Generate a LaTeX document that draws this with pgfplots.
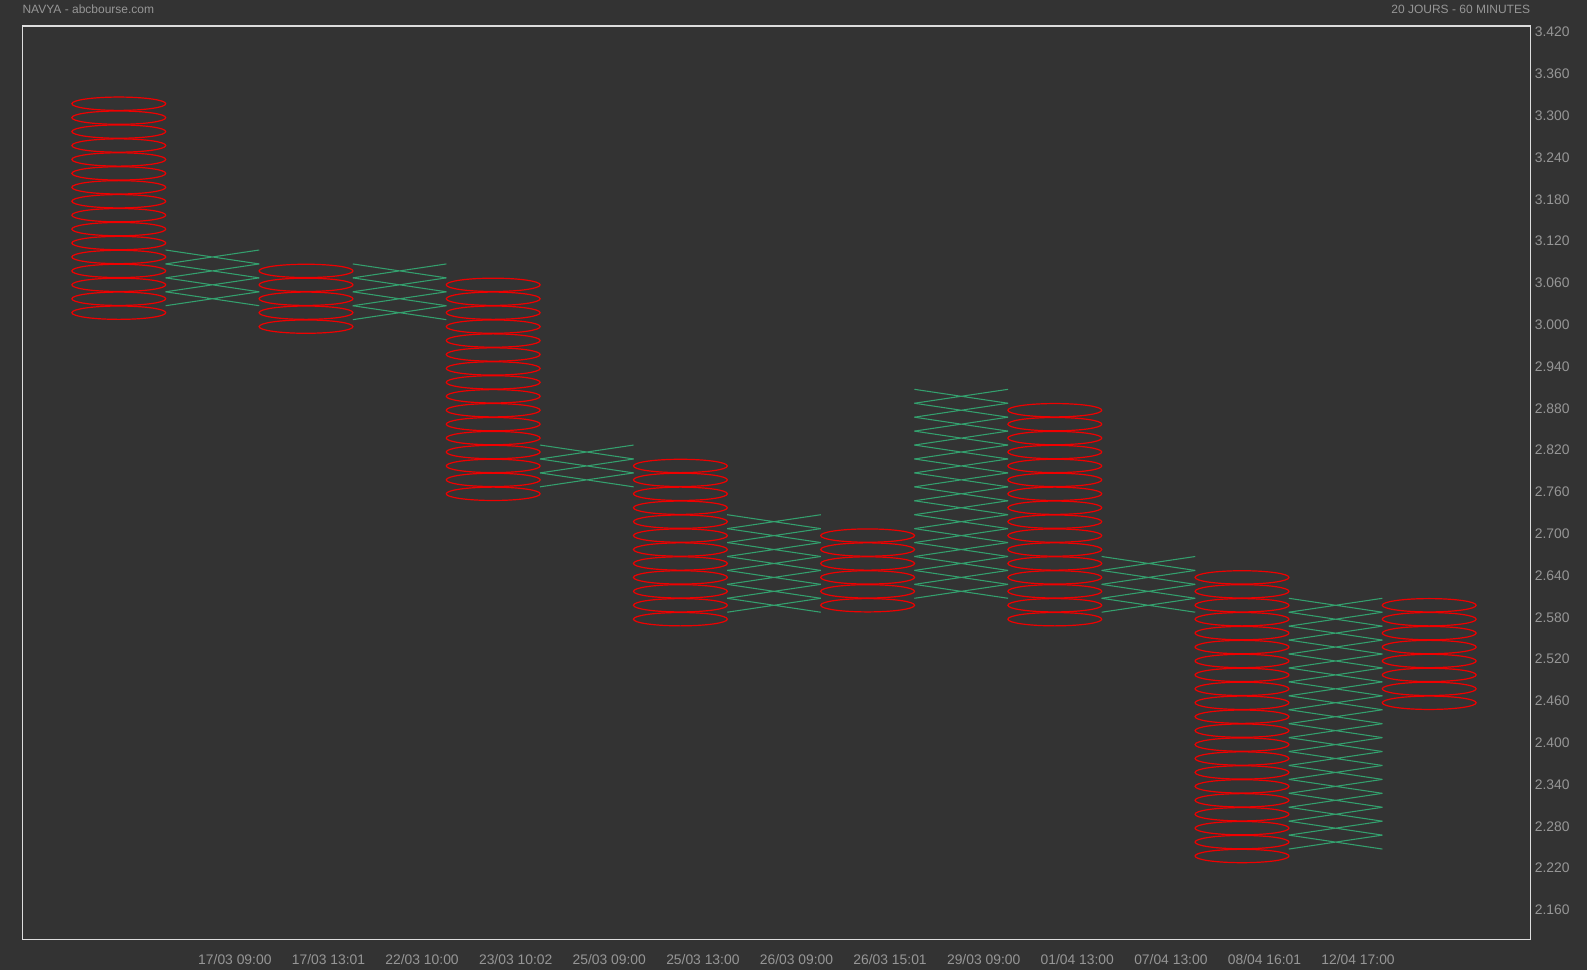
\documentclass[border=0pt]{standalone}
\usepackage{fontspec}
\setmainfont{Liberation Sans}
\usepackage{pgfplots}
\pgfplotsset{compat=1.18}
\definecolor{bgcol}{RGB}{51,51,51}
\definecolor{framecol}{RGB}{222,222,222}
\definecolor{txtcol}{RGB}{150,150,150}
\definecolor{ocol}{RGB}{240,0,0}
\definecolor{xcol}{RGB}{52,160,110}
\pgfdeclareplotmark{pfO}{%
  \pgfpathellipse{\pgfpointorigin}{\pgfqpoint{35.2pt}{0pt}}{\pgfqpoint{0pt}{5.0pt}}%
  \pgfusepathqstroke}
\pgfdeclareplotmark{pfX}{%
  \pgfpathmoveto{\pgfqpoint{-35.1pt}{-5.22pt}}\pgfpathlineto{\pgfqpoint{35.1pt}{5.22pt}}%
  \pgfpathmoveto{\pgfqpoint{-35.1pt}{5.22pt}}\pgfpathlineto{\pgfqpoint{35.1pt}{-5.22pt}}%
  \pgfusepathqstroke}
\begin{document}
\begin{tikzpicture}
\path[use as bounding box, fill=bgcol] (0,0) rectangle (1190.25pt,727.5pt);
\begin{axis}[
  at={(16.73pt,23pt)}, anchor=south west,
  scale only axis, width=1131pt, height=685pt,
  xmin=-0.031, xmax=16.08, ymin=2.1204, ymax=3.4316,
  clip=false,
  axis line style={draw=framecol, line width=0.9pt},
  major tick length=0pt,
  tick style={draw=none},
  xtick pos=bottom, ytick pos=right, yticklabel pos=right,
  xtick={2.24,3.24,4.24,5.24,6.24,7.24,8.24,9.24,10.24,11.24,12.24,13.24,14.24},
  xticklabels={17/03 09:00,17/03 13:01,22/03 10:00,23/03 10:02,25/03 09:00,25/03 13:00,26/03 09:00,26/03 15:01,29/03 09:00,01/04 13:00,07/04 13:00,08/04 16:01,12/04 17:00},
  ytick={2.16,2.22,2.28,2.34,2.40,2.46,2.52,2.58,2.64,2.70,2.76,2.82,2.88,2.94,3.00,3.06,3.12,3.18,3.24,3.30,3.36,3.42},
  yticklabels={2.160,2.220,2.280,2.340,2.400,2.460,2.520,2.580,2.640,2.700,2.760,2.820,2.880,2.940,3.000,3.060,3.120,3.180,3.240,3.300,3.360,3.420},
  xticklabel style={font=\fontsize{10.4}{12}\selectfont, text=txtcol, anchor=base, inner sep=0pt, yshift=-18.5pt},
  yticklabel style={font=\fontsize{10.4}{12}\selectfont, text=txtcol, anchor=west, inner sep=0pt, xshift=3.2pt, yshift=1.4pt},
]
% O columns
\addplot[only marks, mark=pfO, color=ocol, mark options={line width=0.9pt}] coordinates {
(1,3.02)(1,3.04)(1,3.06)(1,3.08)(1,3.10)(1,3.12)(1,3.14)(1,3.16)(1,3.18)(1,3.20)(1,3.22)(1,3.24)(1,3.26)(1,3.28)(1,3.30)(1,3.32)
(3,3.00)(3,3.02)(3,3.04)(3,3.06)(3,3.08)
(5,2.76)(5,2.78)(5,2.80)(5,2.82)(5,2.84)(5,2.86)(5,2.88)(5,2.90)(5,2.92)(5,2.94)(5,2.96)(5,2.98)(5,3.00)(5,3.02)(5,3.04)(5,3.06)
(7,2.58)(7,2.60)(7,2.62)(7,2.64)(7,2.66)(7,2.68)(7,2.70)(7,2.72)(7,2.74)(7,2.76)(7,2.78)(7,2.80)
(9,2.60)(9,2.62)(9,2.64)(9,2.66)(9,2.68)(9,2.70)
(11,2.58)(11,2.60)(11,2.62)(11,2.64)(11,2.66)(11,2.68)(11,2.70)(11,2.72)(11,2.74)(11,2.76)(11,2.78)(11,2.80)(11,2.82)(11,2.84)(11,2.86)(11,2.88)
(13,2.24)(13,2.26)(13,2.28)(13,2.30)(13,2.32)(13,2.34)(13,2.36)(13,2.38)(13,2.40)(13,2.42)(13,2.44)(13,2.46)(13,2.48)(13,2.50)(13,2.52)(13,2.54)(13,2.56)(13,2.58)(13,2.60)(13,2.62)(13,2.64)
(15,2.46)(15,2.48)(15,2.50)(15,2.52)(15,2.54)(15,2.56)(15,2.58)(15,2.60)
};
% X columns
\addplot[only marks, mark=pfX, color=xcol, mark options={line width=0.8pt}] coordinates {
(2,3.04)(2,3.06)(2,3.08)(2,3.10)
(4,3.02)(4,3.04)(4,3.06)(4,3.08)
(6,2.78)(6,2.80)(6,2.82)
(8,2.60)(8,2.62)(8,2.64)(8,2.66)(8,2.68)(8,2.70)(8,2.72)
(10,2.62)(10,2.64)(10,2.66)(10,2.68)(10,2.70)(10,2.72)(10,2.74)(10,2.76)(10,2.78)(10,2.80)(10,2.82)(10,2.84)(10,2.86)(10,2.88)(10,2.90)
(12,2.60)(12,2.62)(12,2.64)(12,2.66)
(14,2.26)(14,2.28)(14,2.30)(14,2.32)(14,2.34)(14,2.36)(14,2.38)(14,2.40)(14,2.42)(14,2.44)(14,2.46)(14,2.48)(14,2.50)(14,2.52)(14,2.54)(14,2.56)(14,2.58)(14,2.60)
};
\node[anchor=west, inner sep=0pt, text=txtcol, font=\fontsize{9}{11}\selectfont, yshift=12.75pt] at (rel axis cs:0,1) {NAVYA - abcbourse.com};
\node[anchor=east, inner sep=0pt, text=txtcol, font=\fontsize{9}{11}\selectfont, yshift=12.75pt] at (rel axis cs:1,1) {20 JOURS - 60 MINUTES};
\end{axis}
\end{tikzpicture}
\end{document}
